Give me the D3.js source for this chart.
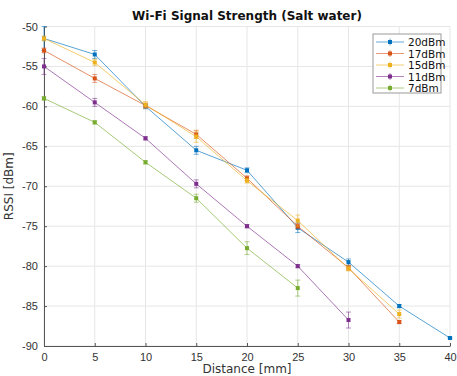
<!DOCTYPE html>
<html>
<head>
<meta charset="utf-8">
<script src="https://cdn.jsdelivr.net/npm/d3@7"></script>
<style>
body { margin: 0; background: #fff; }
svg { font-family: "DejaVu Sans", sans-serif; }
.grid line { stroke: #e6e6e6; }
.axis path, .axis line { stroke: #555; }
.axis text { fill: #333; font-size: 11px; }
</style>
</head>
<body>
<div id="chart-area"></div>
<script>

// distances [mm]
var dist = [0, 5, 10, 15, 20, 25, 30, 35, 40];

var names = ["20dBm", "17dBm", "15dBm", "11dBm", "7dBm"];
var colors = ["#0072BD", "#D95319", "#EDB120", "#7E2F8E", "#77AC30"];

var rssi20 = [-51.5, -53.5, -60, -65.5, -68, -75.2, -79.5, -85, -89];
var rssi17 = [-53, -56.5, -59.9, -63.5, -69, -75, -80.2, -87];
var rssi15 = [-51.5, -54.5, -59.8, -63.8, -69.3, -74.3, -80.3, -86];
var rssi11 = [-55, -59.5, -64, -69.7, -75, -80, -86.75];
var rssi7  = [-59, -62, -67, -71.5, -77.75, -82.75];

// error bar half-widths
var err20 = [1.5, 0.5, 0.3, 0.5, 0.3, 0.6, 0.4, 0.2, 0.1];
var err17 = [0.3, 0.5, 0.3, 0.5, 0.3, 0.3, 0.3, 0.2];
var err15 = [0.3, 0.4, 0.4, 0.7, 0.3, 0.7, 0.3, 0.5];
var err11 = [1, 0.5, 0.2, 0.5, 0.2, 0.2, 1];
var err7  = [0.2, 0.2, 0.2, 0.5, 0.8, 1];

var xTicks = [0, 5, 10, 15, 20, 25, 30, 35, 40];
var yTicks = [-50, -55, -60, -65, -70, -75, -80, -85, -90];

var series = [rssi20, rssi17, rssi15, rssi11, rssi7].map(function(v, i){
    var e = [err20, err17, err15, err11, err7][i];
    return {
        name: names[i],
        color: colors[i],
        values: v.map(function(d, j){ return { x: dist[j], y: d, e: e[j] }; })
    };
});

var margin = { left:44, right:7, top:26.5, bottom:30 },
    width = 457 - margin.left - margin.right,
    height = 376 - margin.top - margin.bottom;

var svg = d3.select("#chart-area")
    .append("svg")
    .attr("width", 457)
    .attr("height", 376);
var g = svg.append("g")
    .attr("transform", "translate(" + margin.left + "," + margin.top + ")");

var x = d3.scaleLinear().domain([0, 40]).range([0, width]);
var y = d3.scaleLinear().domain([-90, -50]).range([height, 0]);

// grid
g.append("g").attr("class", "grid")
    .selectAll("line.v").data(xTicks).enter().append("line")
    .attr("x1", function(d){ return x(d); }).attr("x2", function(d){ return x(d); })
    .attr("y1", 0).attr("y2", height);
g.append("g").attr("class", "grid")
    .selectAll("line.h").data(yTicks).enter().append("line")
    .attr("x1", 0).attr("x2", width)
    .attr("y1", function(d){ return y(d); }).attr("y2", function(d){ return y(d); });

// axes
g.append("g")
    .attr("class", "x axis")
    .attr("transform", "translate(0," + height + ")")
    .call(d3.axisBottom(x).tickValues(xTicks).tickFormat(function(d){ return String(d); })
        .tickSizeInner(-3).tickSizeOuter(0).tickPadding(7));
g.append("g")
    .attr("class", "y axis")
    .call(d3.axisLeft(y).tickValues(yTicks).tickFormat(function(d){ return String(d); })
        .tickSizeInner(-3).tickSizeOuter(0).tickPadding(6));

// title + labels
svg.append("text")
    .attr("x", 247).attr("y", 20)
    .attr("text-anchor", "middle")
    .attr("font-size", "12px")
    .attr("font-weight", "bold")
    .attr("fill", "#111")
    .text("Wi-Fi Signal Strength (Salt water)");

svg.append("text")
    .attr("x", margin.left + width / 2).attr("y", 373)
    .attr("text-anchor", "middle")
    .attr("font-size", "12px")
    .attr("fill", "#333")
    .text("Distance [mm]");

svg.append("text")
    .attr("transform", "rotate(-90)")
    .attr("x", -(margin.top + height / 2)).attr("y", 13)
    .attr("text-anchor", "middle")
    .attr("font-size", "12px")
    .attr("fill", "#333")
    .text("RSSI [dBm]");

var line = d3.line()
    .x(function(d){ return x(d.x); })
    .y(function(d){ return y(d.y); });

series.forEach(function(s){
    var sg = g.append("g");
    sg.append("path")
        .datum(s.values)
        .attr("fill", "none")
        .attr("stroke", s.color)
        .attr("stroke-opacity", 0.65)
        .attr("stroke-width", 1)
        .attr("d", line);

    var eb = sg.selectAll(".eb").data(s.values).enter().append("g")
        .attr("stroke", s.color).attr("stroke-opacity", 0.55).attr("stroke-width", 1);
    eb.append("line")
        .attr("x1", function(d){ return x(d.x); }).attr("x2", function(d){ return x(d.x); })
        .attr("y1", function(d){ return y(d.y - d.e); }).attr("y2", function(d){ return y(d.y + d.e); });
    eb.append("line")
        .attr("x1", function(d){ return x(d.x) - 2.5; }).attr("x2", function(d){ return x(d.x) + 2.5; })
        .attr("y1", function(d){ return y(d.y - d.e); }).attr("y2", function(d){ return y(d.y - d.e); });
    eb.append("line")
        .attr("x1", function(d){ return x(d.x) - 2.5; }).attr("x2", function(d){ return x(d.x) + 2.5; })
        .attr("y1", function(d){ return y(d.y + d.e); }).attr("y2", function(d){ return y(d.y + d.e); });

    sg.selectAll(".pt").data(s.values).enter().append("rect")
        .attr("x", function(d){ return x(d.x) - 2; })
        .attr("y", function(d){ return y(d.y) - 2; })
        .attr("width", 4).attr("height", 4)
        .attr("fill", s.color);
});

// legend
var lg = svg.append("g").attr("transform", "translate(373,34)");
lg.append("rect")
    .attr("width", 68).attr("height", 59)
    .attr("fill", "#fff").attr("stroke", "#999");
series.forEach(function(s, i){
    var row = lg.append("g").attr("transform", "translate(0," + (8 + i * 11.5) + ")");
    row.append("line").attr("x1", 3).attr("x2", 31).attr("y1", 0).attr("y2", 0)
        .attr("stroke", s.color).attr("stroke-opacity", 0.6);
    row.append("line").attr("x1", 17).attr("x2", 17).attr("y1", -3.5).attr("y2", 3.5)
        .attr("stroke", s.color).attr("stroke-opacity", 0.6);
    row.append("rect").attr("x", 15).attr("y", -2).attr("width", 4).attr("height", 4)
        .attr("fill", s.color);
    row.append("text").attr("x", 35).attr("y", 4)
        .attr("font-size", "10.5px").attr("fill", "#111")
        .text(s.name);
});

</script>
</body>
</html>
